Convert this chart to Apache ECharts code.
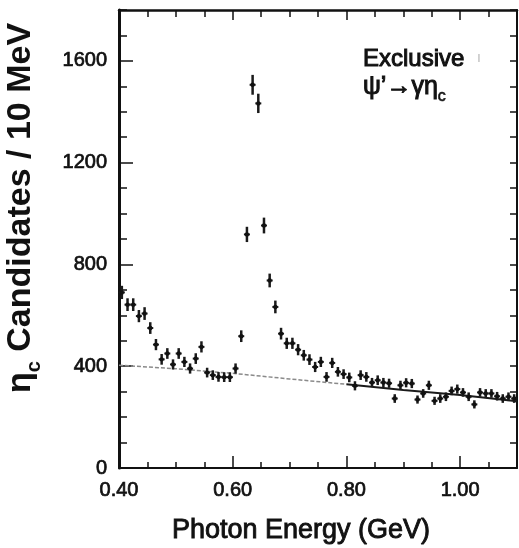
<!DOCTYPE html>
<html>
<head>
<meta charset="utf-8">
<script src="https://cdn.jsdelivr.net/npm/echarts@6/dist/echarts.min.js"></script>
<style>
html,body{margin:0;padding:0;background:#fff;}
#chart{width:519px;height:548px;}
</style>
</head>
<body>
<div id="chart"></div>
<script>
// Photon energy bin centres (GeV), 10 MeV bins
var energy = [0.405,0.415,0.425,0.435,0.445,0.455,0.465,0.475,0.485,0.495,
              0.505,0.515,0.525,0.535,0.545,0.555,0.565,0.575,0.585,0.595,
              0.605,0.615,0.625,0.635,0.645,0.655,0.665,0.675,0.685,0.695,
              0.705,0.715,0.725,0.735,0.745,0.755,0.765,0.775,0.785,0.795,
              0.805,0.815,0.825,0.835,0.845,0.855,0.865,0.875,0.885,0.895,
              0.905,0.915,0.925,0.935,0.945,0.955,0.965,0.975,0.985,0.995,
              1.005,1.015,1.025,1.035,1.045,1.055,1.065,1.075,1.085,1.095];
// eta_c candidates per 10 MeV
var counts = [690,642,642,597,607,550,485,427,450,407,
              450,417,391,430,476,375,365,358,357,357,
              391,518,918,1506,1433,953,737,633,528,490,
              490,465,443,426,397,417,358,413,378,369,
              356,323,365,358,336,345,336,333,273,325,
              335,332,269,293,325,264,273,280,303,310,
              297,280,250,297,293,293,282,273,280,273];
// statistical errors (half length of vertical bars)
var errors = [26,25,25,24,25,23,22,21,21,20,
              21,20,20,21,22,19,19,19,19,19,
              20,23,30,39,38,31,27,25,23,22,
              22,22,21,21,20,20,19,20,19,19,
              19,18,19,19,18,19,18,18,17,18,
              18,18,16,17,18,16,17,17,17,18,
              17,17,16,17,17,17,17,17,17,17];
// background fit: extrapolated (dashed) and fitted (solid) parts
var bgDashE = [0.40,0.50,0.60,0.70,0.80];
var bgDashN = [404,390,372,350,329];
var bgSolidE = [0.80,0.90,1.00,1.10];
var bgSolidN = [329,307,287,262];
// axis ticks
var xMajorTicks = [0.40,0.60,0.80,1.00];
var yMajorTicks = [0,400,800,1200,1600];

var pts = energy.map(function(e,i){return [e, counts[i], errors[i]];});
var dash = bgDashE.map(function(e,i){return [e, bgDashN[i]];});
var solid = bgSolidE.map(function(e,i){return [e, bgSolidN[i]];});

var FONT = 'Liberation Sans';
var INK = '#111';

var chart = echarts.init(document.getElementById('chart'), null, {renderer:'canvas'});

function xAx(pos, interval, len, showLine, showLabel, lw){
  return {
    type:'value', min:0.4, max:1.1, interval:interval, position:pos, gridIndex:0,
    axisLine:{show:showLine, onZero:false, lineStyle:{color:INK, width:lw}},
    axisTick:{show:true, inside:true, length:len, lineStyle:{color:INK, width:1.5}},
    axisLabel:{show:showLabel, showMaxLabel:false, margin:12, fontFamily:FONT, fontSize:20, color:INK,
      textBorderColor:INK, textBorderWidth:0.7,
      formatter:function(v){return xMajorTicks.indexOf(Math.round(v*100)/100)>=0 ? v.toFixed(2) : '';}},
    splitLine:{show:false}
  };
}
function yAx(pos, interval, len, showLine, showLabel, lw){
  return {
    type:'value', min:0, max:1800, interval:interval, position:pos, gridIndex:0,
    axisLine:{show:showLine, onZero:false, lineStyle:{color:INK, width:lw}},
    axisTick:{show:true, inside:true, length:len, lineStyle:{color:INK, width:1.5}},
    axisLabel:{show:showLabel, showMaxLabel:false, margin:12, fontFamily:FONT, fontSize:20, color:INK,
      textBorderColor:INK, textBorderWidth:0.7,
      formatter:function(v){return yMajorTicks.indexOf(v)>=0 ? String(v) : '';}},
    splitLine:{show:false}
  };
}

var option = {
  backgroundColor:'#fff',
  animation:false,
  grid:{left:119, right:2, top:10, bottom:80, containLabel:false},
  xAxis:[
    xAx('bottom',0.05,6,true,false,2),
    xAx('bottom',0.2,12,false,true,2),
    xAx('top',0.05,7,true,false,2.5),
    xAx('top',0.2,10,false,false,2.5)
  ],
  yAxis:[
    yAx('left',100,8,true,false,3),
    yAx('left',400,14,false,true,3),
    yAx('right',100,7,true,false,2)
  ],
  series:[
    {type:'line', xAxisIndex:0, yAxisIndex:0, data:dash, symbol:'none', silent:true,
     lineStyle:{color:'#8a8a8a', width:1.5, type:[4,2]}, z:1},
    {type:'line', xAxisIndex:0, yAxisIndex:0, data:solid, symbol:'none', silent:true,
     lineStyle:{color:'#1a1a1a', width:2}, z:1},
    {type:'custom', xAxisIndex:0, yAxisIndex:0, data:pts, z:3, silent:true,
     renderItem:function(params, api){
       var x = api.value(0), y = api.value(1), e = api.value(2);
       var c = api.coord([x,y]);
       var hi = api.coord([x,y+e]);
       var lo = api.coord([x,y-e]);
       return {type:'group', children:[
         {type:'line', shape:{x1:c[0], y1:hi[1], x2:c[0], y2:lo[1]}, style:{stroke:'#1a1a1a', lineWidth:2.5}},
         {type:'line', shape:{x1:c[0]-3, y1:c[1], x2:c[0]+3, y2:c[1]}, style:{stroke:'#1a1a1a', lineWidth:2}},
         {type:'circle', shape:{cx:c[0], cy:c[1], r:2.2}, style:{fill:'#111'}}
       ]};
     }}
  ],
  graphic:[
    {type:'text', x:27, y:208, rotation:Math.PI/2, z:10,
     style:{text:'{m|η}{s|c}{m| Candidates / 10 MeV}', align:'center', verticalAlign:'middle',
       fill:INK,
       rich:{
         m:{fontFamily:FONT, fontSize:34, fontWeight:'bold', lineHeight:34, fill:INK, verticalAlign:'bottom', padding:[0,0,6,0]},
         s:{fontFamily:FONT, fontSize:20, fontWeight:'bold', lineHeight:20, fill:INK, verticalAlign:'bottom'}
       }}},
    {type:'text', x:301, y:531, z:10,
     style:{text:'Photon Energy (GeV)', align:'center', verticalAlign:'middle', fontFamily:FONT, fontSize:27, fill:INK,
       stroke:INK, lineWidth:0.9}},
    {type:'text', x:363, y:59, z:10,
     style:{text:'Exclusive', align:'left', verticalAlign:'middle', fontFamily:FONT, fontSize:24, fill:INK,
       stroke:INK, lineWidth:1}},
    {type:'text', x:477, y:58, z:10,
     style:{text:'ı', align:'left', verticalAlign:'middle', fontFamily:FONT, fontSize:14, fill:'#bbb'}},
    {type:'text', x:363, y:92, z:10,
     style:{text:'{m|ψ’→γη}{s|c}', align:'left', verticalAlign:'middle', fill:INK,
       rich:{
         m:{fontFamily:FONT, fontSize:25, lineHeight:25, fill:INK, verticalAlign:'bottom', padding:[0,0,5,0], stroke:INK, lineWidth:1},
         s:{fontFamily:FONT, fontSize:16, lineHeight:16, fill:INK, verticalAlign:'bottom', stroke:INK, lineWidth:0.6}
       }}}
  ]
};
chart.setOption(option);
</script>
</body>
</html>
